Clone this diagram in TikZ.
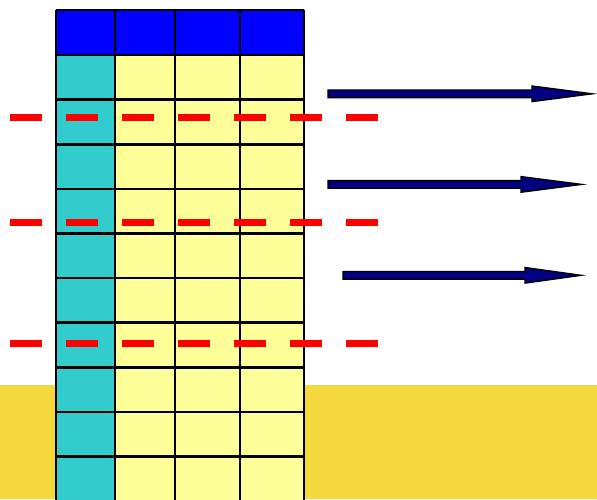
\documentclass[tikz,border=0pt]{standalone}
\usepackage{tikz}
\definecolor{hdrblue}{HTML}{0000FF}
\definecolor{cyancol}{HTML}{33CCCC}
\definecolor{cellyel}{HTML}{FFFF99}
\definecolor{ground}{HTML}{F5D83B}
\definecolor{navyarr}{HTML}{000080}
\tikzset{
  gridline/.style={draw=black, line width=2.6pt},
  reddash/.style={draw=red, line width=7pt, dash pattern=on 32pt off 24pt},
  blockarrow/.style={fill=navyarr, draw=black, line width=1.4pt, line join=miter},
}
\begin{document}
\begin{tikzpicture}[x=1pt,y=-1pt]
\useasboundingbox (0,0) rectangle (597,499);
\fill[white] (0,0) rectangle (597,499);
% ground
\fill[ground] (0,385) rectangle (597,499);
% table fills
\fill[hdrblue] (56,10) rectangle (304,55);
\fill[cyancol] (56,55) rectangle (115,510);
\fill[cellyel] (115,55) rectangle (304,510);
% grid lines
\foreach \xx in {56,115,175,240,304} {
  \draw[gridline] (\xx,10) -- (\xx,510);
}
\draw[gridline] (56,10) -- (304,10);
\foreach \i in {0,...,10} {
  \draw[gridline] (56,55+44.6*\i) -- (304,55+44.6*\i);
}
% red dashed lines
\foreach \yy in {117,222,343} {
  \draw[reddash] (10,\yy) -- (379,\yy);
}
% block arrows
\draw[blockarrow] (328,90) -- (532,90) -- (532,86) -- (592,93.8) -- (532,101.6) -- (532,97.6) -- (328,97.6) -- cycle;
\draw[blockarrow] (328,180.6) -- (521,180.6) -- (521,176.6) -- (581.5,184.4) -- (521,192.2) -- (521,188.2) -- (328,188.2) -- cycle;
\draw[blockarrow] (343,271.5) -- (525,271.5) -- (525,267.5) -- (581,275.3) -- (525,283.1) -- (525,279.1) -- (343,279.1) -- cycle;
\end{tikzpicture}
\end{document}
